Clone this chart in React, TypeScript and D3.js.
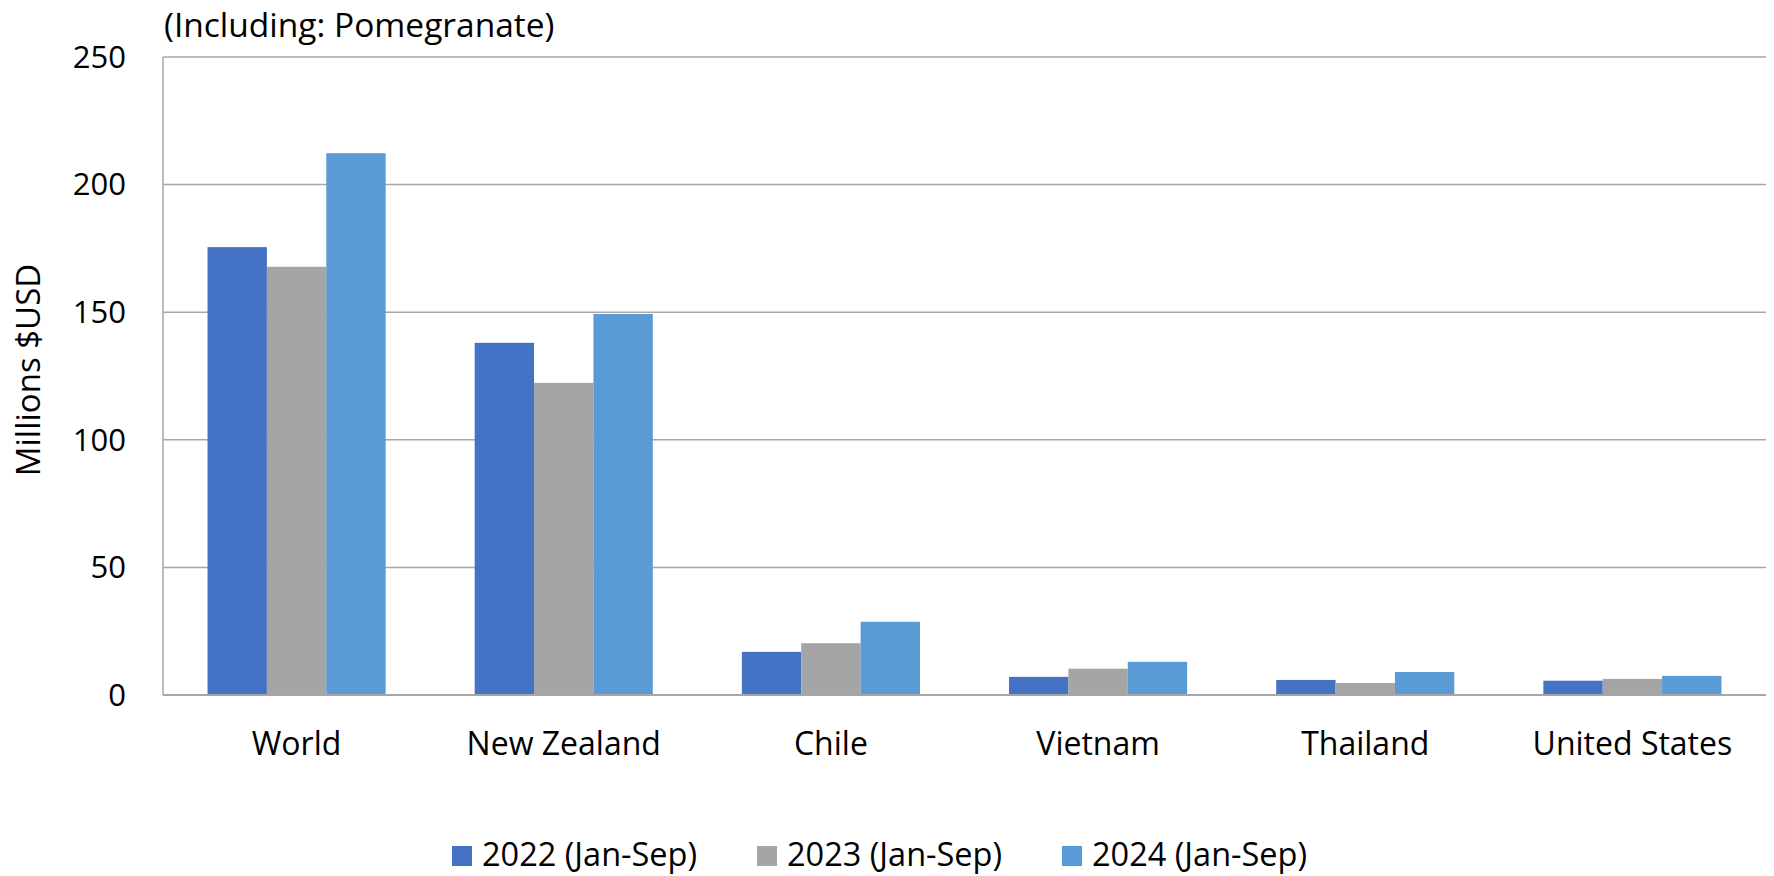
import React from "react";
import * as d3 from "d3";

const categories = ["World", "New Zealand", "Chile", "Vietnam", "Thailand", "United States"];
const seriesNames = ["2022 (Jan-Sep)", "2023 (Jan-Sep)", "2024 (Jan-Sep)"];
const values2022 = [175.5, 138.0, 16.9, 7.1, 5.9, 5.6];
const values2023 = [167.8, 122.3, 20.3, 10.3, 4.7, 6.3];
const values2024 = [212.3, 149.3, 28.7, 13.0, 9.0, 7.5];
const yTicks = [0, 50, 100, 150, 200, 250];
const colors = ["#4472C4", "#A5A5A5", "#5B9BD5"];
const title = "(Including: Pomegranate)";
const yTitle = "Millions $USD";

const W = 1774;
const H = 876;
const FONT = "'Open Sans', 'Noto Sans', sans-serif";

export default function App() {
  const left = 163;
  const right = 1766;
  const top = 57;
  const bottom = 695;
  const seriesValues = [values2022, values2023, values2024];

  const x0 = d3.scaleBand<string>().domain(categories).range([left, right]).padding(0);
  const bw = x0.bandwidth();
  const x1 = d3
    .scaleBand<string>()
    .domain(seriesNames)
    .range([bw / 6, bw - bw / 6])
    .padding(0);
  const y = d3.scaleLinear().domain([0, 250]).range([bottom, top]);

  return (
    <svg
      width={W}
      height={H}
      style={{ position: "absolute", left: 0, top: 0, background: "#fff" }}
      fontFamily={FONT}
    >
      <rect x={0} y={0} width={W} height={H} fill="#fff" />
      {yTicks.map((t) => (
        <line
          key={t}
          x1={left}
          x2={right}
          y1={y(t)}
          y2={y(t)}
          stroke="#A6A6A6"
          strokeWidth={1.5}
        />
      ))}
      <line x1={left} x2={left} y1={top} y2={bottom} stroke="#A6A6A6" strokeWidth={1.5} />
      {categories.map((c, ci) => (
        <g key={c} transform={`translate(${x0(c)},0)`}>
          {seriesNames.map((s, si) => {
            const v = seriesValues[si][ci];
            return (
              <rect
                key={s}
                x={x1(s)}
                y={y(v)}
                width={x1.bandwidth()}
                height={y(0) - y(v)}
                fill={colors[si]}
              />
            );
          })}
        </g>
      ))}
      <line x1={left} x2={right} y1={y(0)} y2={y(0)} stroke="#A6A6A6" strokeWidth={2} />
      {yTicks.map((t) => (
        <text
          key={t}
          x={126}
          y={y(t)}
          dy="0.35em"
          textAnchor="end"
          fontSize={31}
          fill="#000"
        >
          {t}
        </text>
      ))}
      {categories.map((c) => (
        <text
          key={c}
          x={(x0(c) as number) + bw / 2}
          y={755}
          textAnchor="middle"
          fontSize={32}
          fill="#000"
        >
          {c}
        </text>
      ))}
      <text x={164} y={37} fontSize={33.5} fill="#000">
        {title}
      </text>
      <text
        transform={`translate(40,${(top + bottom) / 2 - 6}) rotate(-90)`}
        textAnchor="middle"
        fontSize={33}
        fill="#000"
      >
        {yTitle}
      </text>
      {seriesNames.map((s, i) => {
        const lx = 452 + i * 305;
        return (
          <g key={s}>
            <rect x={lx} y={846} width={20} height={20} fill={colors[i]} />
            <text x={lx + 30} y={855} dy="0.35em" fontSize={32.5} fill="#000">
              {s}
            </text>
          </g>
        );
      })}
    </svg>
  );
}
